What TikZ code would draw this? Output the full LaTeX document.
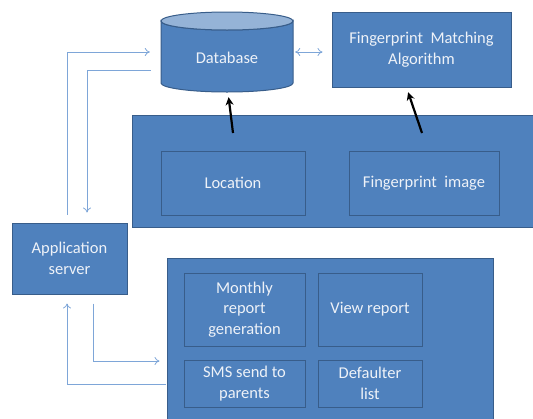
\documentclass[tikz,border=0pt]{standalone}
\usepackage{fontspec}
\setmainfont{Carlito}
\usetikzlibrary{arrows.meta}
\definecolor{boxfill}{HTML}{4F81BD}
\definecolor{boxline}{HTML}{385D8A}
\definecolor{dbtop}{HTML}{95B3D7}
\definecolor{conncol}{HTML}{7EA6D8}
\definecolor{txtcol}{HTML}{EEF2F8}
\begin{document}
\begin{tikzpicture}[x=1pt,y=-1pt,
  bx/.style={draw=boxline, line width=1pt, fill=boxfill, text=txtcol, align=center,
    font=\fontsize{16.5}{20.5}\selectfont, inner sep=0pt},
  conn/.style={draw=conncol, line width=0.8pt, -{To[length=5pt,width=8pt]}},
  blk/.style={draw=black, line width=2.2pt, -{Stealth[length=8pt,width=8pt]}}]
\useasboundingbox (0,0) rectangle (533,418);
\clip (0,0) rectangle (533,418);
% database cylinder
\node[inner sep=0pt, minimum width=132pt, minimum height=80pt] (db) at (227,52) {};
\draw[boxline, line width=1pt, fill=boxfill]
  (161,21) -- (161,83) arc[start angle=180, end angle=360, x radius=66pt, y radius=9pt]
  -- (293,21) arc[start angle=0, end angle=180, x radius=66pt, y radius=-9pt] -- cycle;
\draw[boxline, line width=1pt, fill=dbtop] (227,21) ellipse[x radius=66pt, y radius=9pt];
\node[text=txtcol, font=\fontsize{16.5}{20.5}\selectfont] (dbt) at (227,58) {Database};
% boxes
\node[bx, minimum width=179pt, minimum height=75pt] (fma) at (421.5,49.5) {Fingerprint\ \ Matching\\Algorithm};
\node[bx, minimum width=413pt, minimum height=112pt] (big1) at (338.5,171) {};
\node[bx, minimum width=144pt, minimum height=64pt] (loc) at (233,183) {Location};
\node[bx, minimum width=150pt, minimum height=64pt] (fpi) at (424,183) {Fingerprint\ \ image};
\node[bx, minimum width=115pt, minimum height=71pt] (app) at (69.5,258.5) {Application\\server};
\node[bx, minimum width=326pt, minimum height=172pt] (big2) at (330,344) {};
\node[bx, minimum width=121pt, minimum height=73pt] (mon) at (244.5,309.5) {Monthly\\report\\generation};
\node[bx, minimum width=104pt, minimum height=73pt] (view) at (370,309.5) {View report};
\node[bx, minimum width=121pt, minimum height=47pt] (sms) at (244.5,383.5) {SMS send to\\parents};
\node[bx, minimum width=104pt, minimum height=47pt] (def) at (370,383.5) {Defaulter\\list};
% black arrows
\coordinate (a1) at (233,133);
\coordinate (a2) at (422,133);
\draw[blk, shorten >=5pt] (a1) -- ([xshift=1pt]db.south);
\draw[blk, shorten >=5pt] (a2) -- ([xshift=-15pt]fma.south);
% connectors
\draw[conn, {To[length=5pt,width=8pt]}-{To[length=5pt,width=8pt]}, shorten <=2pt, shorten >=9pt] (db.east) -- (db.east -| fma.west);
\draw[conn] ([shift={(-2.5,-8)}]app.north) |- ([xshift=-11pt]db.west);
\draw[conn] ([shift={(-10,18)}]db.west) -| ([shift={(17.5,-10)}]app.north);
\draw[conn] ([shift={(23.5,9)}]app.south) |- ([shift={(-7,17)}]big2.west);
\draw[conn] ([shift={(-1,40)}]big2.west) -| ([shift={(-2.5,9)}]app.south);
\end{tikzpicture}
\end{document}
